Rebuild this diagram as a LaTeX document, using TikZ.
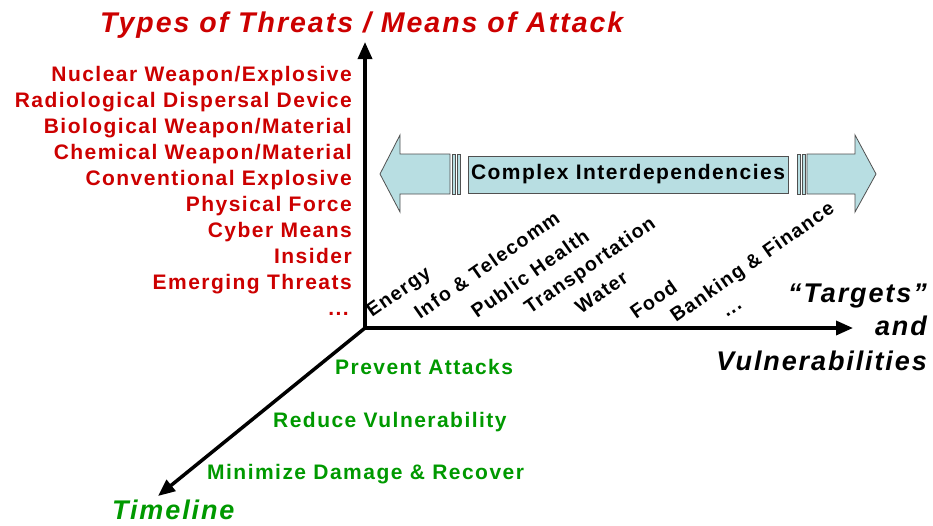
\documentclass[tikz,border=0pt]{standalone}
\usepackage{fontspec}
\setmainfont{Liberation Sans}[LetterSpace=7]
\usetikzlibrary{arrows.meta}

\definecolor{threatred}{RGB}{204,0,0}
\definecolor{phasegreen}{RGB}{0,153,0}
\definecolor{linkfill}{RGB}{184,222,226}
\definecolor{linkline}{RGB}{80,80,80}

\tikzset{axis/.style={line width=3.5pt,line cap=rect,-{Triangle[length=17pt,width=14pt]}}}
\tikzset{heading/.style={inner sep=0pt,font=\fontsize{27}{31}\selectfont\bfseries\itshape}}
\tikzset{threat/.style={inner sep=0pt,anchor=base east,text=threatred,font=\fontsize{21}{25}\selectfont\bfseries}}
\tikzset{target/.style={inner sep=0pt,anchor=base west,rotate=35,font=\fontsize{19.5}{23}\selectfont\bfseries}}
\tikzset{phase/.style={inner sep=0pt,anchor=base west,text=phasegreen,font=\fontsize{21}{25}\selectfont\bfseries}}
\tikzset{link/.style={fill=linkfill,draw=linkline,line width=0.8pt}}

\begin{document}
\begin{tikzpicture}[x=1pt,y=-1pt]
        \useasboundingbox (0,0) rectangle (933,525);
        % the three axes
        \coordinate (origin) at (365,328);
        \coordinate (threattip) at (365,42);
        \coordinate (targettip) at (853,328);
        \coordinate (timetip) at (158,496);
        \draw[axis] (origin) -- (threattip);
        \draw[axis] (origin) -- (targettip);
        \draw[axis] (origin) -- (timetip);

        % axis titles
        \node[heading,text=threatred,anchor=base west,font=\fontsize{28.5}{33}\selectfont\bfseries\itshape] (threattitle) at (100,32) {Types of Threats / Means of Attack};
        \node[heading,anchor=base east] (targettitle) at (927,302) {“Targets”};
        \node[heading,anchor=base east] (andtitle) at (927,335) {and};
        \node[heading,anchor=base east] (vulntitle) at (927,370) {Vulnerabilities};
        \node[heading,text=phasegreen,anchor=base west] (timetitle) at (112,519) {Timeline};

        % threats
        \node[threat] (nuclear) at (352,81) {Nuclear Weapon/Explosive};
        \node[threat] (radiological) at (352,107) {Radiological Dispersal Device};
        \node[threat] (biological) at (352,133) {Biological Weapon/Material};
        \node[threat] (chemical) at (352,159) {Chemical Weapon/Material};
        \node[threat] (conventional) at (352,185) {Conventional Explosive};
        \node[threat] (physical) at (352,211) {Physical Force};
        \node[threat] (cyber) at (352,237) {Cyber Means};
        \node[threat] (insider) at (352,263) {Insider};
        \node[threat] (emerging) at (352,289) {Emerging Threats};
        \node[threat] (morethreats) at (349,315) {...};

        % targets
        \node[target] (energy) at (372,318) {Energy};
        \node[target] (telecomm) at (420,320) {Info \& Telecomm};
        \node[target] (health) at (477,319) {Public Health};
        \node[target] (transport) at (530,315) {Transportation};
        \node[target] (water) at (581,315) {Water};
        \node[target] (food) at (636,320) {Food};
        \node[target] (banking) at (676,323) {Banking \& Finance};
        \node[target] (moretargets) at (727,318) {...};

        % timeline
        \node[phase] (prevent) at (335,374) {Prevent Attacks};
        \node[phase] (reduce) at (273,427) {Reduce Vulnerability};
        \node[phase] (minimize) at (207,479) {Minimize Damage \& Recover};

        % the broken double arrow
        \draw[link] (380,174) -- (400,135) -- (400,154) -- (450,154) -- (450,194) -- (400,194) -- (400,212) -- cycle;
        \draw[link] (452,154) rectangle (455,194);
        \draw[link] (457,154) rectangle (460,194);
        \node[link,minimum width=320pt,minimum height=37pt,inner sep=0pt,font=\fontsize{21}{25}\selectfont\bfseries] (complex) at (628,174.5) {Complex Interdependencies};
        \draw[link] (797,154) rectangle (800,194);
        \draw[link] (802,154) rectangle (805,194);
        \draw[link] (876,174) -- (855,135) -- (855,154) -- (807,154) -- (807,194) -- (855,194) -- (855,212) -- cycle;
\end{tikzpicture}
\end{document}
